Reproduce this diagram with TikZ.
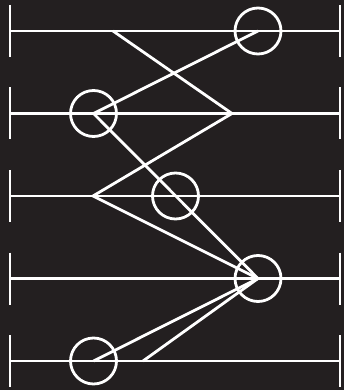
\documentclass[tikz,border=0pt]{standalone}
\usetikzlibrary{positioning, calc}

\definecolor{bgdark}{RGB}{35,31,32}

\begin{document}
\begin{tikzpicture}[
    x=1pt,
    y=-1pt,
    wire/.style={
        draw=white,
        line width=2.8pt
    },
    tick/.style={
        draw=white,
        line width=2.8pt
    },
    ring/.style={
        circle,
        draw=white,
        line width=2.8pt,
        minimum size=46pt,
        inner sep=0pt
    },
    link/.style={
        draw=white,
        line width=2.8pt,
        line join=miter
    }
]

    % Background
    \fill[bgdark] (0,0) rectangle (344,390);
    \useasboundingbox (0,0) rectangle (344,390);

    % Wire ends
    \coordinate (w1l) at (10,31);
    \coordinate (w1r) at (340,31);
    \coordinate (w2l) at (10,113.5);
    \coordinate (w2r) at (340,113.5);
    \coordinate (w3l) at (10,196);
    \coordinate (w3r) at (340,196);
    \coordinate (w4l) at (10,278.5);
    \coordinate (w4r) at (340,278.5);
    \coordinate (w5l) at (10,361);
    \coordinate (w5r) at (340,361);

    % Wires
    \draw[wire] (w1l) -- (w1r);
    \draw[wire] (w2l) -- (w2r);
    \draw[wire] (w3l) -- (w3r);
    \draw[wire] (w4l) -- (w4r);
    \draw[wire] (w5l) -- (w5r);

    % End ticks
    \draw[tick] ($(w1l)+(0,-26)$) -- ($(w1l)+(0,26)$);
    \draw[tick] ($(w1r)+(0,-26)$) -- ($(w1r)+(0,26)$);
    \draw[tick] ($(w2l)+(0,-26)$) -- ($(w2l)+(0,26)$);
    \draw[tick] ($(w2r)+(0,-26)$) -- ($(w2r)+(0,26)$);
    \draw[tick] ($(w3l)+(0,-26)$) -- ($(w3l)+(0,26)$);
    \draw[tick] ($(w3r)+(0,-26)$) -- ($(w3r)+(0,26)$);
    \draw[tick] ($(w4l)+(0,-26)$) -- ($(w4l)+(0,26)$);
    \draw[tick] ($(w4r)+(0,-26)$) -- ($(w4r)+(0,26)$);
    \draw[tick] ($(w5l)+(0,-26)$) -- ($(w5l)+(0,26)$);
    \draw[tick] ($(w5r)+(0,-26)$) -- ($(w5r)+(0,26)$);

    % Rings
    \node[ring] (r1) at (258,31) {};
    \node[ring] (r2) at (93.5,113.5) {};
    \node[ring] (r3) at (175.5,196) {};
    \node[ring] (r4) at (258,278.5) {};
    \node[ring] (r5) at (93.5,361) {};

    % Bare points
    \coordinate (p1) at (113,31);
    \coordinate (p2) at (232,113.5);
    \coordinate (p3) at (93,196);
    \coordinate (p5) at (143,361);

    % Links
    \draw[link] (p1) -- (p2) -- (p3) -- (r4.center);
    \draw[link] (r1.center) -- (r2.center) -- (r4.center);
    \draw[link] (r5.center) -- (r4.center);
    \draw[link] (p5) -- (r4.center);

\end{tikzpicture}
\end{document}
